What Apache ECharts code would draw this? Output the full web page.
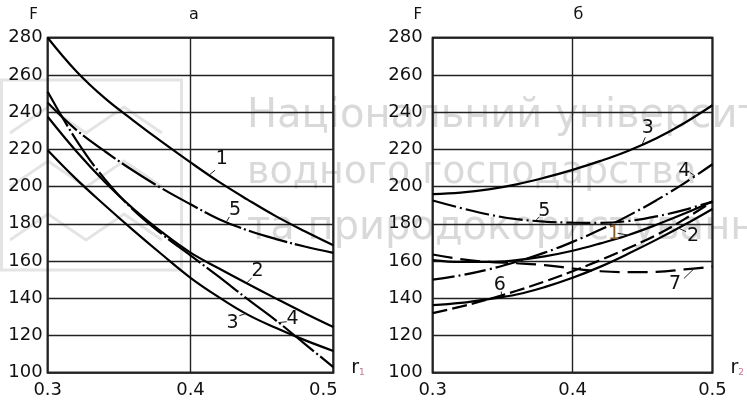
<!DOCTYPE html>
<html>
<head>
<meta charset="utf-8">
<script src="https://cdn.jsdelivr.net/npm/echarts@6/dist/echarts.min.js"></script>
<style>html,body{margin:0;padding:0;background:#fff}#c{width:747px;height:401px}</style>
</head>
<body>
<div id="c"></div>
<script>
// ---- data ----
var xs = [0.30, 0.32, 0.34, 0.36, 0.38, 0.40, 0.42, 0.44, 0.46, 0.48, 0.50];
// panel "а" (x = r1)
var a1 = [280, 262, 247.5, 235.5, 224, 213, 202.5, 193, 184, 176, 168.5];
var a2 = [237.5, 219, 202.5, 188, 175.5, 164.5, 156, 147.8, 139.8, 132, 124.6];
var a3 = [219.5, 204, 190, 176.5, 163.5, 151, 140.5, 131.2, 124, 117.5, 111.7];
var a4 = [251, 225, 204, 187.5, 174.5, 163, 151.5, 139.5, 128, 115.5, 103];
var a5 = [245, 230.5, 219, 208.5, 199, 190.5, 182.5, 176.5, 171.8, 167.8, 164.4];
// panel "б" (x = r2)
var b1 = [160.5, 159.5, 159.5, 160.5, 162.5, 165.5, 169.5, 174, 179.5, 185.5, 192];
var b2 = [136.3, 137.5, 139.5, 142, 146, 151, 157, 164, 171.5, 179.5, 188];
var b3 = [196, 196.8, 198.5, 201.2, 204.8, 209, 213.8, 219.3, 226, 234.2, 243.7];
var b4 = [150, 152.3, 155.5, 159.6, 164.5, 170.3, 176.9, 184.4, 192.7, 201.9, 212];
var b5 = [192.5, 188.5, 185, 182.5, 181.2, 180.6, 180.5, 181.5, 184, 187.5, 192];
var b6 = [132, 135.5, 139.5, 144, 149, 154.5, 160.5, 167, 174, 182.5, 192];
var b7 = [163.5, 161, 159.5, 158.8, 157.8, 156, 154.5, 154, 154.2, 155.5, 157];
// tick labels
var xTickLabels = ['0.3', '0.4', '0.5'];
var yTickLabels = ['100', '120', '140', '160', '180', '200', '220', '240', '260', '280'];
// curve annotations: label text, label point, leader start, leader end (data coords)
var annA = [
  ['1', [0.4220, 214.7], [0.4172, 208.8], [0.4132, 206.3]],
  ['5', [0.4312, 187.3], [0.4272, 183.7], [0.4253, 181.2]],
  ['2', [0.4469, 154.8], [0.4429, 151.0], [0.4394, 148.2]],
  ['3', [0.4294, 126.9], [0.4342, 130.6], [0.4394, 132.0]],
  ['4', [0.4714, 129.0], [0.4674, 127.4], [0.4615, 126.9]]
];
var annB = [
  ['3', [0.4537, 231.2], [0.4520, 226.5], [0.4497, 222.7]],
  ['4', [0.4799, 208.4], [0.4839, 207.5], [0.4874, 205.8]],
  ['5', [0.3797, 186.9], [0.3762, 183.8], [0.3738, 181.8]],
  ['1', [0.4296, 174.5], [0.4322, 174.9], [0.4403, 173.9]],
  ['2', [0.4862, 173.2], [0.4811, 175.8], [0.4752, 177.9]],
  ['6', [0.3480, 147.1], [0.3490, 143.6], [0.3492, 141.8]],
  ['7', [0.4733, 147.6], [0.4797, 150.7], [0.4867, 155.8]]
];

var FONT = 'DejaVu Sans';
var TXT = '#111';

function pts(vals) { return xs.map(function (x, i) { return [x, vals[i]]; }); }

function curve(vals, axis, dash) {
  return {
    type: 'line', xAxisIndex: axis, yAxisIndex: axis, data: pts(vals),
    smooth: 0.4, symbol: 'none', silent: true, z: 3,
    lineStyle: { color: '#000', width: 2.2, type: dash, cap: 'butt' }
  };
}

function annSeries(ann, axis, colors) {
  return {
    type: 'line', xAxisIndex: axis, yAxisIndex: axis, data: [], silent: true, z: 4,
    markPoint: {
      symbol: 'circle', symbolSize: 1, itemStyle: { color: 'rgba(0,0,0,0)' },
      label: { show: true, position: 'inside', fontSize: 19, fontFamily: FONT },
      data: ann.map(function (a, i) {
        return { coord: a[1], label: { formatter: a[0], color: (colors && colors[i]) || TXT } };
      })
    },
    markLine: {
      symbol: ['none', 'none'], silent: true, label: { show: false },
      lineStyle: { color: '#222', width: 1, type: 'solid' },
      data: ann.map(function (a) { return [{ coord: a[2] }, { coord: a[3] }]; })
    }
  };
}

function xAxisFor(idx, sub, gridIndex) {
  return {
    type: 'value', gridIndex: gridIndex, min: 0.3, max: 0.5, interval: 0.1,
    axisLine: { show: false }, axisTick: { show: false },
    splitLine: { show: true, lineStyle: { color: '#222', width: 1.4 } },
    axisLabel: {
      margin: 9, fontSize: 18, fontFamily: FONT, color: TXT,
      formatter: function (v) {
        var k = Math.round((v - 0.3) / 0.1);
        var s = xTickLabels[k];
        if (idx === 0 && k === 2) return '{s|' + s + '}';
        return s;
      },
      rich: { s: { fontSize: 18, fontFamily: FONT, color: TXT, padding: [0, 20, 0, 0] } }
    },
    name: '{r|r}{s|' + sub + '}', nameLocation: 'end', nameGap: 18,
    nameTextStyle: {
      rich: {
        r: { fontSize: 19, fontFamily: FONT, color: TXT, padding: [0, 0, 9, 0] },
        s: { fontSize: 9, fontFamily: FONT, color: '#c07888', padding: [0, 0, 0, 0] }
      }
    }
  };
}

function yAxisFor(gridIndex, margin) {
  return {
    type: 'value', gridIndex: gridIndex, min: 100, max: 280, interval: 20,
    axisLine: { show: false }, axisTick: { show: false },
    splitLine: { show: true, lineStyle: { color: '#222', width: 1.4 } },
    axisLabel: {
      margin: margin, fontSize: 18, fontFamily: FONT, color: TXT,
      formatter: function (v) { return yTickLabels[Math.round((v - 100) / 20)]; }
    }
  };
}

var WM = '#d9d9d9';
var chart = echarts.init(document.getElementById('c'), null, { renderer: 'canvas' });
chart.setOption({
  animation: false,
  backgroundColor: '#fff',
  grid: [
    { left: 47.7, top: 37.7, width: 285.6, height: 335, show: true, borderColor: '#000', borderWidth: 2, backgroundColor: 'rgba(0,0,0,0)', containLabel: false },
    { left: 432.7, top: 37.7, width: 286, height: 335, show: true, borderColor: '#000', borderWidth: 2, backgroundColor: 'rgba(0,0,0,0)', containLabel: false }
  ],
  xAxis: [xAxisFor(0, '1', 0), xAxisFor(1, '2', 1)],
  yAxis: [yAxisFor(0, 5), yAxisFor(1, 10)],
  graphic: [
    // faint watermark
    { type: 'rect', z: -10, shape: { x: 1.5, y: 80, width: 180, height: 190 }, style: { fill: 'none', stroke: '#e4e4e4', lineWidth: 3 } },
    { type: 'polyline', z: -10, shape: { points: [[10, 133], [48, 107], [86, 133], [124, 107], [162, 133]] }, style: { fill: 'none', stroke: '#e4e4e4', lineWidth: 3 } },
    { type: 'polyline', z: -10, shape: { points: [[10, 187], [48, 161], [86, 187], [124, 161], [162, 187]] }, style: { fill: 'none', stroke: '#e4e4e4', lineWidth: 3 } },
    { type: 'polyline', z: -10, shape: { points: [[10, 240], [48, 214], [86, 240], [124, 214], [162, 240]] }, style: { fill: 'none', stroke: '#e4e4e4', lineWidth: 3 } },
    { type: 'text', z: -10, x: 247, y: 117, style: { text: 'Національний університет', fill: WM, font: '40px "DejaVu Sans"', align: 'left', verticalAlign: 'middle' } },
    { type: 'text', z: -10, x: 247, y: 173, style: { text: 'водного господарства', fill: WM, font: '38px "DejaVu Sans"', align: 'left', verticalAlign: 'middle' } },
    { type: 'text', z: -10, x: 247, y: 229, style: { text: 'та природокористування', fill: WM, font: '40px "DejaVu Sans"', align: 'left', verticalAlign: 'middle' } },
    // panel captions
    { type: 'text', x: 33.5, y: 15, style: { text: 'F', fill: TXT, font: '15px "DejaVu Sans"', align: 'center', verticalAlign: 'middle' } },
    { type: 'text', x: 194, y: 15, style: { text: 'а', fill: TXT, font: '16px "DejaVu Sans"', align: 'center', verticalAlign: 'middle' } },
    { type: 'text', x: 417.7, y: 15, style: { text: 'F', fill: TXT, font: '15px "DejaVu Sans"', align: 'center', verticalAlign: 'middle' } },
    { type: 'text', x: 578.5, y: 15, style: { text: 'б', fill: TXT, font: '16px "DejaVu Sans"', align: 'center', verticalAlign: 'middle' } }
  ],
  series: [
    curve(a1, 0, 'solid'),
    curve(a2, 0, 'solid'),
    curve(a3, 0, 'solid'),
    curve(a4, 0, [40, 3, 2, 3]),
    curve(a5, 0, [40, 3, 2, 3]),
    annSeries(annA, 0),
    curve(b1, 1, 'solid'),
    curve(b2, 1, 'solid'),
    curve(b3, 1, 'solid'),
    curve(b4, 1, [22, 4, 2, 4]),
    curve(b5, 1, [24, 4, 2, 4]),
    curve(b6, 1, [15, 5]),
    curve(b7, 1, [20, 8]),
    annSeries(annB, 1, [null, null, null, '#8b5a2b'])
  ]
});
</script>
</body>
</html>
